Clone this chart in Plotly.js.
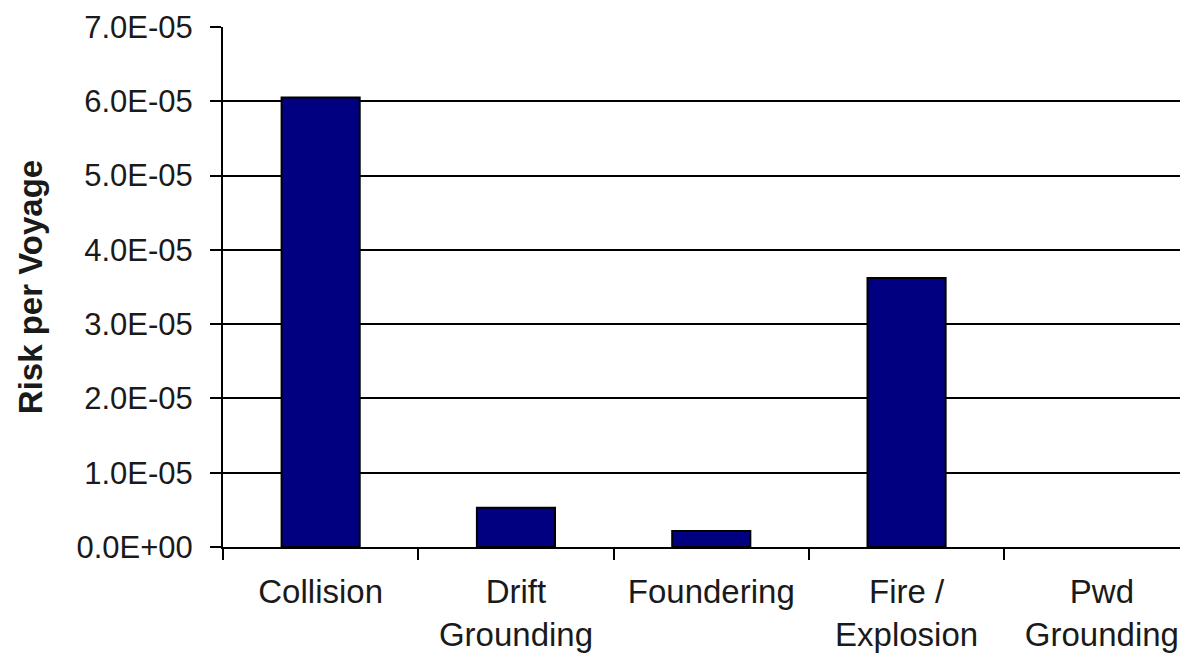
<!DOCTYPE html>
<html>
<head>
<meta charset="utf-8">
<script src="https://cdn.plot.ly/plotly-3.0.1.min.js"></script>
<style>
html,body{margin:0;padding:0;background:#fff;}
#chart{width:1180px;height:658px;}
</style>
</head>
<body>
<div id="chart"></div>
<script>
const categories = ["Collision", "Drift<br>Grounding", "Foundering", "Fire /<br>Explosion", "Pwd<br>Grounding"];
const riskPerVoyage = [6.05e-5, 0.53e-5, 0.216e-5, 3.62e-5, 0];
const yTickValues = [0, 1e-5, 2e-5, 3e-5, 4e-5, 5e-5, 6e-5, 7e-5];
const yTickLabels = ["0.0E+00", "1.0E-05", "2.0E-05", "3.0E-05", "4.0E-05", "5.0E-05", "6.0E-05", "7.0E-05"];

const trace = {
  type: "bar",
  x: categories,
  y: riskPerVoyage,
  width: 0.4,
  marker: {color: "#000080", line: {color: "#000000", width: [2, 2, 2, 2, 0]}},
  hoverinfo: "x+y"
};

const layout = {
  width: 1180,
  height: 658,
  margin: {l: 223, r: 0, t: 27, b: 111, pad: 0},
  paper_bgcolor: "#ffffff",
  plot_bgcolor: "#ffffff",
  showlegend: false,
  font: {family: "Liberation Sans, Arial, sans-serif", color: "#1a1a1a"},
  xaxis: {
    type: "category",
    range: [-0.5, 4.4],
    showline: true,
    linecolor: "#000",
    linewidth: 2,
    ticks: "outside",
    tickson: "boundaries",
    ticklen: 11,
    tickwidth: 2,
    tickcolor: "#000",
    showgrid: false,
    tickfont: {size: 33, color: "#1a1a1a"},
    ticklabelstandoff: 14,
    fixedrange: true
  },
  yaxis: {
    range: [0, 7e-5],
    tickvals: yTickValues,
    ticktext: yTickLabels,
    showline: true,
    linecolor: "#000",
    linewidth: 2,
    ticks: "outside",
    ticklen: 11,
    tickwidth: 2,
    tickcolor: "#000",
    showgrid: true,
    gridcolor: "#000",
    gridwidth: 2,
    zeroline: false,
    tickfont: {size: 31, color: "#1a1a1a"},
    ticklabelstandoff: 11,
    title: {text: "<b>Risk per Voyage</b>", font: {size: 33, color: "#1a1a1a"}, standoff: 24},
    fixedrange: true
  }
};

Plotly.newPlot("chart", [trace], layout, {displayModeBar: false, staticPlot: true});
</script>
</body>
</html>
